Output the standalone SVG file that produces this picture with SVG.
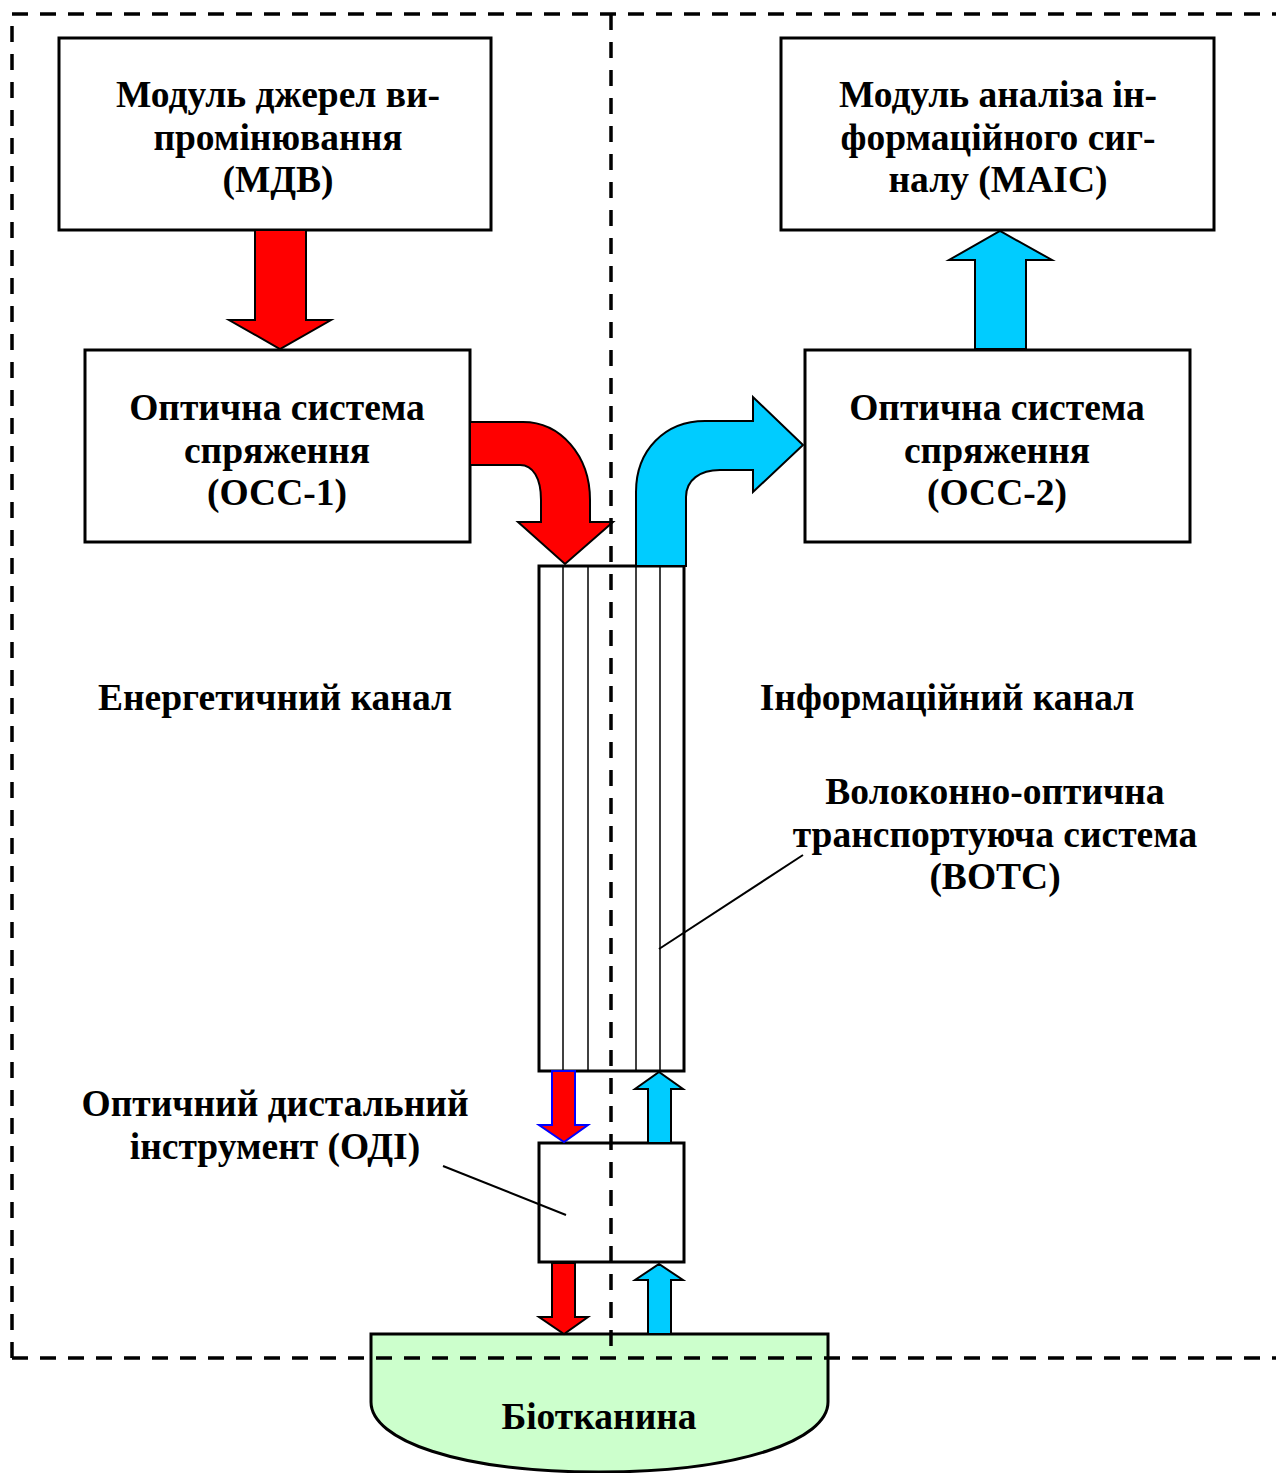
<svg xmlns="http://www.w3.org/2000/svg" width="1276" height="1473" viewBox="0 0 1276 1473">
<style>
.box{fill:#fff;stroke:#000;stroke-width:3}
.t{font-family:"Liberation Serif","Times New Roman",serif;font-weight:bold;font-size:37.5px;fill:#000;text-anchor:middle}
.red{fill:#FF0000;stroke:#000;stroke-width:2;stroke-linejoin:miter}
.cyan{fill:#00CCFF;stroke:#000;stroke-width:2;stroke-linejoin:miter}
.dash{fill:none;stroke:#000;stroke-width:3.5;stroke-dasharray:16 12}
.fiber{stroke:#000;stroke-width:1.5}
.lead{stroke:#000;stroke-width:2}
</style>
<rect width="1276" height="1473" fill="#fff"/>
<g id="bio">
<path d="M371,1334 H828 V1402 C828,1440 740,1472 599,1472 C458,1472 371,1440 371,1402 Z" fill="#CCFFCC" stroke="#000" stroke-width="3"/>
<text class="t" x="599" y="1429">Біотканина</text>
</g>
<g id="mdv">
<rect class="box" x="59" y="38" width="432" height="192"/>
<text class="t" x="278" y="107">Модуль джерел ви-</text>
<text class="t" x="278" y="150">промінювання</text>
<text class="t" x="278" y="192">(МДВ)</text>
</g>
<g id="maic">
<rect class="box" x="781" y="38" width="433" height="192"/>
<text class="t" x="998" y="107">Модуль аналіза ін-</text>
<text class="t" x="998" y="150">формаційного сиг-</text>
<text class="t" x="998" y="192">налу (МАІС)</text>
</g>
<g id="occ1">
<rect class="box" x="85" y="350" width="385" height="192"/>
<text class="t" x="277" y="420">Оптична система</text>
<text class="t" x="277" y="463">спряження</text>
<text class="t" x="277" y="505">(ОСС-1)</text>
</g>
<g id="occ2">
<rect class="box" x="805" y="350" width="385" height="192"/>
<text class="t" x="997" y="420">Оптична система</text>
<text class="t" x="997" y="463">спряження</text>
<text class="t" x="997" y="505">(ОСС-2)</text>
</g>
<g id="votc">
<rect class="box" x="539" y="566" width="145" height="505"/>
<line class="fiber" x1="563" y1="566" x2="563" y2="1071"/>
<line class="fiber" x1="588" y1="566" x2="588" y2="1071"/>
<line class="fiber" x1="636" y1="566" x2="636" y2="1071"/>
<line class="fiber" x1="660" y1="566" x2="660" y2="1071"/>
<text class="t" x="995" y="804">Волоконно-оптична</text>
<text class="t" x="995" y="847">транспортуюча система</text>
<text class="t" x="995" y="889">(ВОТС)</text>
</g>
<g id="odi">
<rect class="box" x="539" y="1143" width="145" height="119"/>
<text class="t" x="275" y="1116">Оптичний дистальний</text>
<text class="t" x="275" y="1159">інструмент (ОДІ)</text>
</g>
<g id="labels">
<text class="t" x="275" y="710">Енергетичний канал</text>
<text class="t" x="947" y="710">Інформаційний канал</text>
</g>
<g id="connectors">
<path class="red" d="M255,230 H306 V320 H331 L280,349 L229,320 H255 Z"/>
<path class="cyan" d="M975,349 V260 H949 L1000,231 L1052,260 H1026 V349 Z"/>
<path class="red" d="M470,422 H523 C560,422 590,455 590,500 V522 H613 L565,564 L518,522 H541 V500 C541,478 533,465 520,465 H470 Z"/>
<path class="cyan" d="M636,566 V492 C636,450 665,421 705,421 H753 V397 L803,445 L753,492 V470 H720 C700,470 686,480 686,497 V566 Z"/>
<path d="M552,1071 H575 V1125 H588 L564,1142 L539,1125 H552 Z" fill="#FF0000" stroke="#0000FF" stroke-width="2"/>
<path class="red" d="M552,1263 H575 V1317 H588 L564,1334 L539,1317 H552 Z"/>
<path class="cyan" d="M648,1143 V1089 H635 L659,1072 L683,1089 H671 V1143 Z"/>
<path class="cyan" d="M648,1334 V1280 H635 L659,1264 L683,1280 H671 V1334 Z"/>
<line class="lead" x1="803" y1="855" x2="659" y2="949"/>
<line class="lead" x1="443" y1="1166" x2="566" y2="1215"/>
</g>
<g id="frame">
<path class="dash" d="M12,1358 V14 H1276"/>
<line class="dash" x1="12" y1="1358" x2="1276" y2="1358"/>
<line class="dash" x1="611" y1="14" x2="611" y2="1358"/>
</g>
</svg>
